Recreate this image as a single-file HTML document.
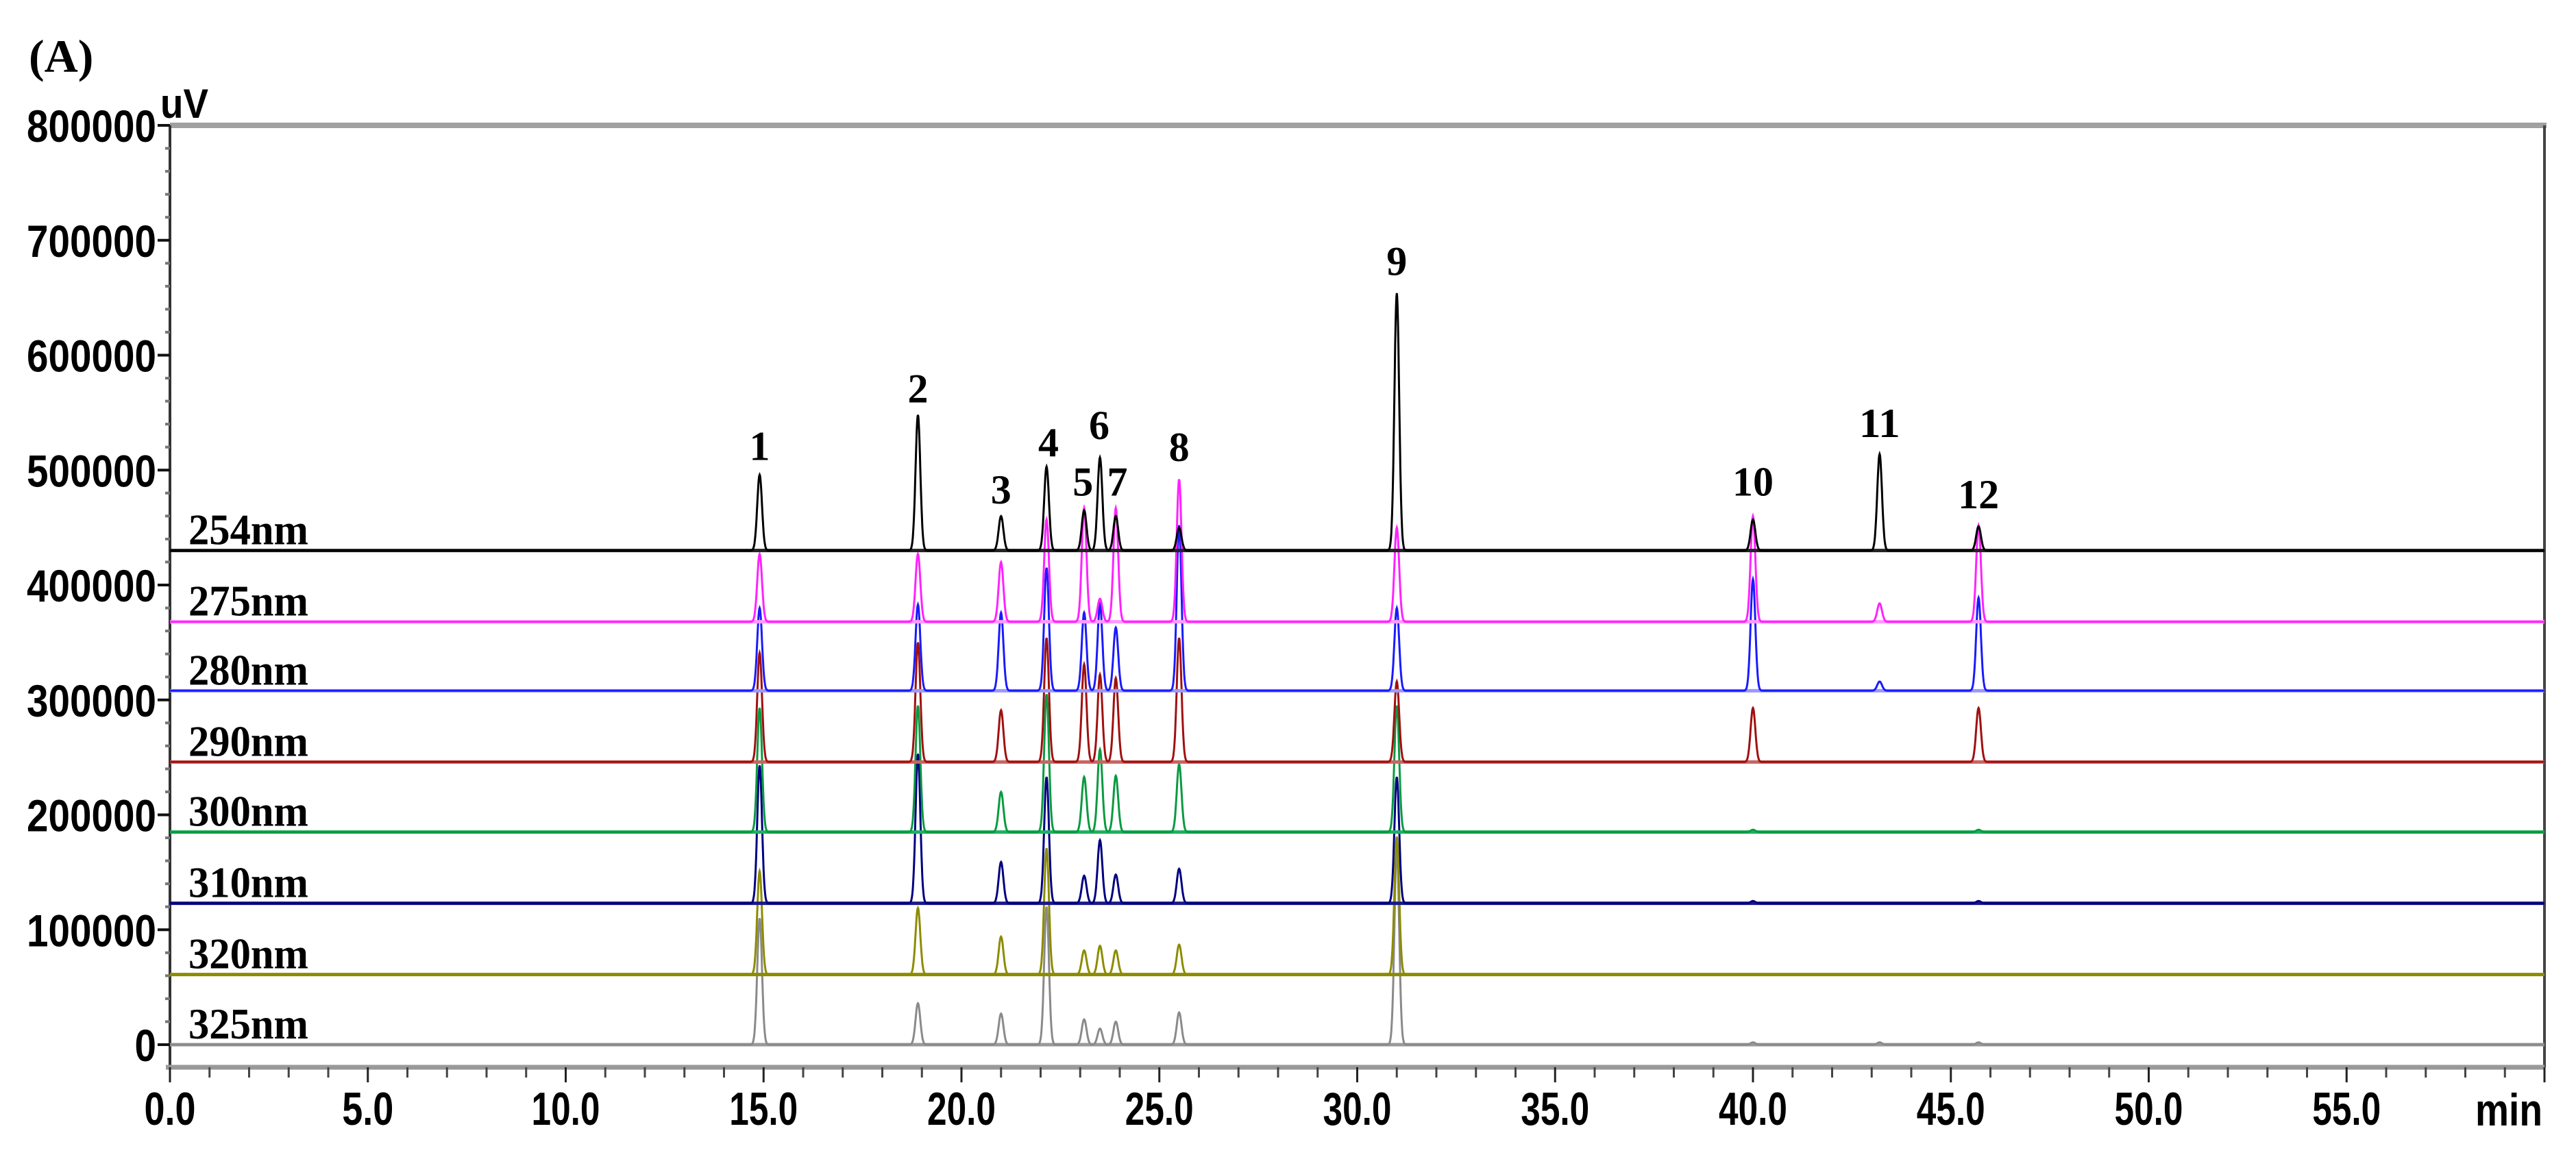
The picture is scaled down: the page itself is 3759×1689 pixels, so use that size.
<!DOCTYPE html>
<html><head><meta charset="utf-8"><style>
html,body{margin:0;padding:0;background:#fff;}
svg{display:block;}
</style></head><body>
<svg id="chart" width="3759" height="1689" viewBox="0 0 3759 1689" xmlns="http://www.w3.org/2000/svg">
<rect width="3759" height="1689" fill="#fff"/>
<text x="42" y="105" font-family="Liberation Serif, serif" font-weight="bold" font-size="68">(A)</text>
<text x="234" y="172" font-family="Liberation Sans, sans-serif" font-weight="bold" font-size="60" textLength="70" lengthAdjust="spacingAndGlyphs">uV</text>
<text x="3612" y="1643" font-family="Liberation Sans, sans-serif" font-weight="bold" font-size="66" textLength="98" lengthAdjust="spacingAndGlyphs">min</text>
<g id="axes"></g>
<g id="series"></g>
<g id="labels"></g>
</svg>
<script>
const wavelengths = ["254nm","275nm","280nm","290nm","300nm","310nm","320nm","325nm"];
const baselines = [430000,368000,308000,246000,185000,123000,61000,0];
const peakTimes = [14.9,18.9,21.0,22.15,23.1,23.5,23.9,25.5,31.0,40.0,43.2,45.7];
const peakNames = ["1","2","3","4","5","6","7","8","9","10","11","12"];
const labelTimes = [14.9,18.9,21.0,22.2,23.07,23.48,23.94,25.5,31.0,40.0,43.2,45.7];
const labelValues = [522000,572000,484000,525000,491000,540000,491000,521000,683000,491000,542000,480000];
const h254 = [66000,118000,30000,73000,35000,81000,30000,20000,224000,27000,84000,21000];
const h275 = [59000,59000,52000,89000,99000,20000,99000,124000,82000,92000,16000,84000];
const h280 = [72000,75000,68000,107000,68000,75000,55000,144000,72000,97000,8000,81000];
const h290 = [95000,104000,45000,108000,85000,76000,73000,108000,70000,47000,0,47000];
const h300 = [108000,110000,35000,120000,48000,72000,49000,59000,110000,2000,0,2000];
const h310 = [120000,130000,36000,110000,24000,55000,25000,30000,110000,2000,0,2000];
const h320 = [90000,58000,33000,110000,21000,25000,21000,26000,120000,0,0,0];
const h325 = [110000,36000,27000,120000,22000,14000,20000,28000,170000,2000,2000,2000];
const heights = [h254,h275,h280,h290,h300,h310,h320,h325];
const yTicks = [0,100000,200000,300000,400000,500000,600000,700000,800000];
const xTicks = [0,5,10,15,20,25,30,35,40,45,50,55];

const colors = ["#000000","#ff22ff","#1a1aff","#a01010","#0a9a40","#000080","#8c8c00","#8a8a8a"];
const baseColors = ["#222222","#ff99ff","#9999ff","#c86464","#20b060","#1a1a8a","#8c8c00","#999999"];
const L=248, R=3713, T=183, Y0=1525, XB=1558;
const xs = t => L + t*(R-L)/60;
const ys = v => Y0 - v*(Y0-T)/800000;
const NS="http://www.w3.org/2000/svg";
function mk(tag, attrs, parent){const e=document.createElementNS(NS,tag);for(const k in attrs)e.setAttribute(k,attrs[k]);parent.appendChild(e);return e;}
const axes=document.getElementById('axes'), ser=document.getElementById('series'), lab=document.getElementById('labels');

let e;
e=mk('line',{x1:L,y1:T,x2:R+3,y2:T,stroke:'#a0a0a0','stroke-width':8},axes);


e=mk('line',{x1:R,y1:T,x2:R,y2:XB,stroke:'#444','stroke-width':4},axes);


e=mk('line',{x1:L,y1:T,x2:L,y2:XB,stroke:'#333','stroke-width':4},axes);


e=mk('line',{x1:L-6,y1:XB,x2:R,y2:XB,stroke:'#999','stroke-width':7},axes);



for(let v=0; v<=800000; v+=20000){
  const major = v%100000===0;
  e=mk('line',{x1:major?L-18:L-7,y1:ys(v),x2:L,y2:ys(v),stroke:major?'#111':'#777','stroke-width':4},axes);
  
  
}
yTicks.forEach(v=>{
  const s=String(v);
  e=mk('text',{x:L-20,y:ys(v)+24,'text-anchor':'end','font-family':'Liberation Sans, sans-serif','font-weight':'bold','font-size':66,textLength:s.length*31.5,lengthAdjust:'spacingAndGlyphs'},axes);
  e.textContent=s;
  
  
});
for(let t=0;t<=60;t+=1){
  const major=t%5===0;
  e=mk('line',{x1:xs(t),y1:XB,x2:xs(t),y2:major?XB+22:XB+15,stroke:major?'#222':'#444','stroke-width':3},axes);
  
  
}
xTicks.forEach(t=>{
  const s=t.toFixed(1);
  e=mk('text',{x:xs(t),y:1642,'text-anchor':'middle','font-family':'Liberation Sans, sans-serif','font-weight':'bold','font-size':68,textLength:s.length*25,lengthAdjust:'spacingAndGlyphs'},axes);
  e.textContent=s;
  
  
});

const sigma=0.06;
for(let i=wavelengths.length-1;i>=0;i--){
  const g=mk('g',{},ser);
  
  
  e=mk('line',{x1:L,y1:ys(baselines[i]),x2:R,y2:ys(baselines[i]),stroke:baseColors[i],'stroke-width':5},g);
  
  
  let d='';
  for(let t=0;t<=60.0001;t+=0.01){
    let v=baselines[i];
    heights[i].forEach((h,k)=>{const z=(t-peakTimes[k])/sigma; if(Math.abs(z)<6) v+=h*Math.exp(-0.5*z*z);});
    d+=(d?'L':'M')+xs(t).toFixed(1)+','+ys(v).toFixed(1);
  }
  e=mk('path',{d:d,fill:'none',stroke:colors[i],'stroke-width':3},g);
  
  
  e=mk('text',{x:275,y:ys(baselines[i])-9,'font-family':'Liberation Serif, serif','font-weight':'bold','font-size':64,textLength:175,lengthAdjust:'spacingAndGlyphs'},lab);
  e.textContent=wavelengths[i];
  
  
}
peakNames.forEach((n,k)=>{
  e=mk('text',{x:xs(labelTimes[k]),y:ys(labelValues[k])+22,'text-anchor':'middle','font-family':'Liberation Serif, serif','font-weight':'bold','font-size':60,textLength:n.length*30,lengthAdjust:'spacingAndGlyphs'},lab);
  e.textContent=n;
  
  
});
</script>
</body></html>
